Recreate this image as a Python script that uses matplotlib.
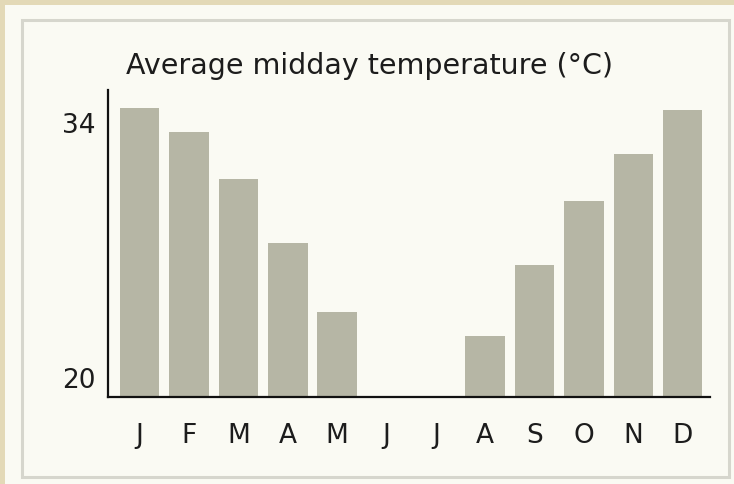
import numpy as np
import matplotlib
matplotlib.use("Agg")
import matplotlib.pyplot as plt
from matplotlib.patches import Rectangle

# ==========================
# data
# ==========================
months = ["J", "F", "M", "A", "M", "J", "J", "A", "S", "O", "N", "D"]
temps = [34.8, 33.5, 30.9, 27.4, 23.6, 18.0, 18.0, 22.3, 26.2, 29.7, 32.3, 34.7]
yticks = [20, 34]
title = "Average midday temperature (°C)"

W, H = 734, 484
fig = plt.figure(figsize=(W / 100, H / 100), dpi=100)
fig.patch.set_facecolor("#e3d9b7")

# ==========================
# panel background and frame
# ==========================
fig.patches.append(Rectangle((5 / W, 0), 1 - 5 / W, 1 - 5 / H, transform=fig.transFigure,
                             facecolor="#fafaf3", edgecolor="none", zorder=-2))
fig.patches.append(Rectangle((22 / W, 1 - 477 / H), (729 - 22) / W, (477 - 20) / H,
                             transform=fig.transFigure, facecolor="#fafaf3",
                             edgecolor="#d6d6cd", linewidth=2.2, zorder=-1))

# ==========================
# bars
# ==========================
ax = fig.add_axes([108 / W, 1 - 397 / H, 602 / W, 307 / H])
ax.set_facecolor("none")
x = np.arange(len(months))
ax.bar(x, temps, width=0.8, color="#b6b6a5", zorder=2)

ax.set_xlim(-0.642, 11.553)
ax.set_ylim(18.96, 35.81)
ax.set_xticks(x)
ax.set_xticklabels(months)
ax.set_yticks(yticks)

for s in ["top", "right"]:
    ax.spines[s].set_visible(False)
for s in ["left", "bottom"]:
    ax.spines[s].set_linewidth(1.6)
    ax.spines[s].set_color("#111111")

ax.tick_params(axis="both", length=0, labelsize=19, labelcolor="#1c1c1c")
ax.tick_params(axis="x", pad=19)
ax.tick_params(axis="y", pad=9)

fig.text(370 / W, 1 - 66 / H, title, ha="center", va="center",
         fontsize=20.5, color="#1c1c1c")

plt.savefig("out.png", dpi=100)
plt.close()
